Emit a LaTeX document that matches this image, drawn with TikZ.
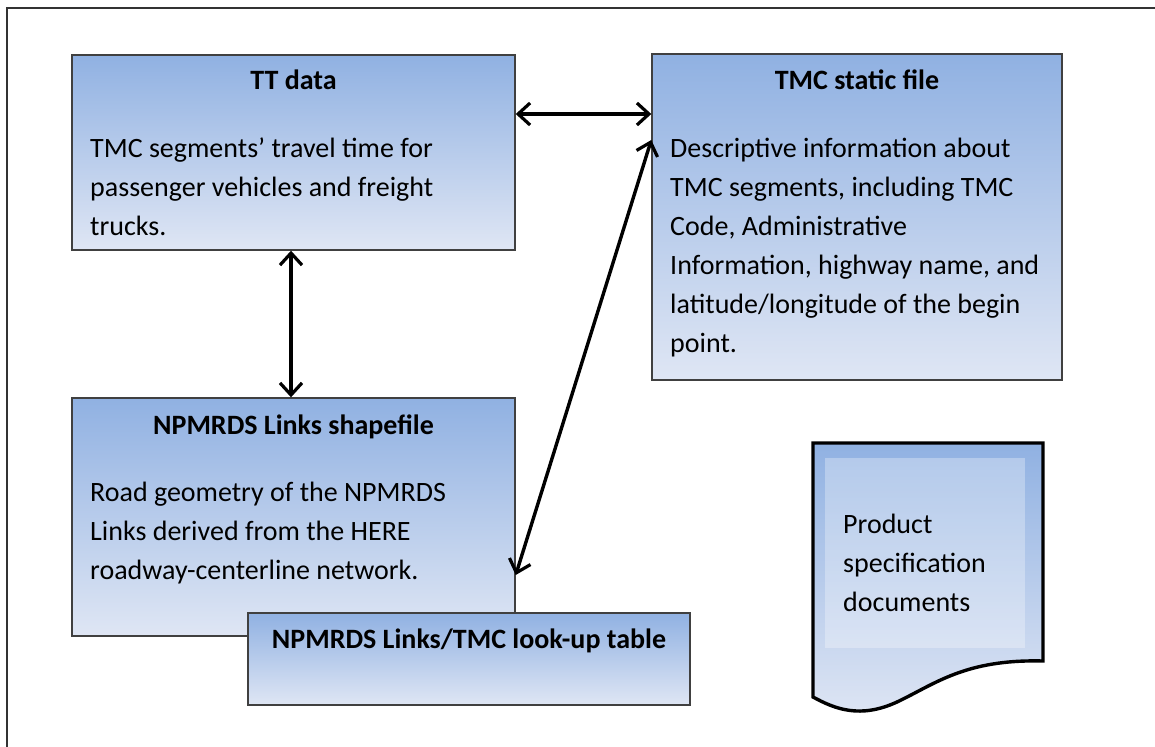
\documentclass[tikz,border=0pt]{standalone}
\usepackage{fontspec}
\setmainfont{Carlito}
\usetikzlibrary{arrows.meta}
\definecolor{boxtop}{HTML}{90B1E2}
\definecolor{boxbot}{HTML}{DFE6F4}
\begin{document}
\begin{tikzpicture}[x=1pt,y=-1pt,
  box/.style={draw=black!75, line width=1.4pt, top color=boxtop, bottom color=boxbot, inner sep=0pt},
  txt/.style={inner sep=0pt, align=left, font=\fontsize{28}{39}\selectfont},
  ttl/.style={inner sep=0pt, font=\fontsize{28}{39}\selectfont\bfseries},
  link/.style={line width=3.4pt, {Straight Barb[length=12pt,width=22pt,line width=3.2pt]}-{Straight Barb[length=12pt,width=22pt,line width=3.2pt]}}
]
\useasboundingbox (0,0) rectangle (1155,746);
\fill[white] (0,0) rectangle (1155,746);
\draw[line width=1.5pt, black!80] (7,8) rectangle (1180,770);

% boxes
\node[box, minimum width=443pt, minimum height=195pt] (tt) at (293.5,152.5) {};
\node[box, minimum width=410pt, minimum height=326pt] (tmc) at (857,217) {};
\node[box, minimum width=443pt, minimum height=238pt] (np) at (293.5,517) {};
\node[box, minimum width=442pt, minimum height=92pt] (lu) at (469,659) {};

% texts (base anchor = baseline of the last line)
\node[ttl, anchor=base] (ttT) at (293.5,90) {TT data};
\node[txt, anchor=base west] (ttB) at (90,235) {TMC segments’ travel time for\\passenger vehicles and freight\\trucks.};
\node[ttl, anchor=base] (tmcT) at (857,90) {TMC static file};
\node[txt, anchor=base west] (tmcB) at (670,352) {Descriptive information about\\TMC segments, including TMC\\Code, Administrative\\Information, highway name, and\\latitude/longitude of the begin\\point.};
\node[ttl, anchor=base] (npT) at (293.5,434) {NPMRDS Links shapefile};
\node[txt, anchor=base west] (npB) at (90,579) {Road geometry of the NPMRDS\\Links derived from the HERE\\roadway-centerline network.};
\node[ttl, anchor=base] (luT) at (469,648) {NPMRDS Links/TMC look-up table};

% document shape
\path[line width=3.4pt, draw=black, top color=boxtop, bottom color=boxbot]
  (813,443) -- (1043,443) -- (1043,661)
  .. controls (965,659) and (935,684) .. (897,702)
  .. controls (860,719) and (835,709) .. (813,697) -- cycle;
\fill[white, opacity=0.3] (825,458) rectangle (1025,648);
\node[txt, anchor=base west] (doc) at (843,611) {Product\\specification\\documents};

% connectors
\draw[link] (tt.east |- 0,114) -- (tmc.west |- 0,114);
\draw[link] (tt.south -| 291,0) -- (np.north -| 291,0);
\draw[link] (np.east |- 0,575) -- (tmc.west |- 0,140);
\end{tikzpicture}
\end{document}
